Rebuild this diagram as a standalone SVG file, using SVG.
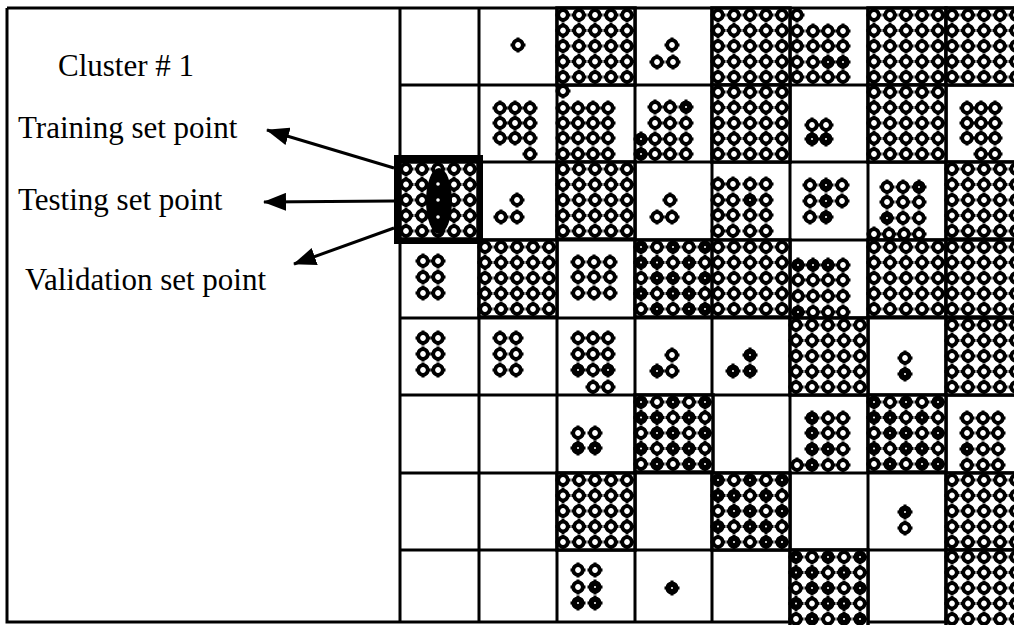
<svg xmlns="http://www.w3.org/2000/svg" width="1014" height="625" viewBox="0 0 1014 625">
<style>
.lbl{font-family:"Liberation Serif","Times New Roman",serif;font-size:31px;fill:#000}
.grid{stroke:#000;stroke-width:3;fill:none}
.arr{stroke:#000;stroke-width:3;fill:none;marker-end:url(#ah)}
</style>
<defs>
<marker id="ah" markerWidth="24" markerHeight="18" refX="22" refY="9" orient="auto" markerUnits="userSpaceOnUse"><path d="M0,0 L23,9 L0,18 Z" fill="#000"/></marker>
<g id="o"><path d="M-7.5 0H7.5M0-7.5V7.5" stroke="#000" stroke-width="3"/><circle r="4.8" fill="#fff" stroke="#000" stroke-width="3.8"/></g>
<g id="f"><path d="M-7.5 0H7.5M0-7.5V7.5" stroke="#000" stroke-width="3"/><circle r="5.3" fill="#000" stroke="#000" stroke-width="2.6"/><circle r="1" fill="#fff"/></g>
<g id="dA">
<rect width="78" height="77" fill="#fff" stroke="#000" stroke-width="3.5"/>
<use href="#o" x="6" y="7"/><use href="#o" x="22" y="7"/><use href="#o" x="38" y="7"/><use href="#o" x="54" y="7"/><use href="#o" x="70" y="7"/>
<use href="#o" x="6" y="22.5"/><use href="#o" x="22" y="22.5"/><use href="#o" x="38" y="22.5"/><use href="#o" x="54" y="22.5"/><use href="#o" x="70" y="22.5"/>
<use href="#o" x="6" y="38"/><use href="#o" x="22" y="38"/><use href="#o" x="38" y="38"/><use href="#o" x="54" y="38"/><use href="#o" x="70" y="38"/>
<use href="#o" x="6" y="53.5"/><use href="#o" x="22" y="53.5"/><use href="#o" x="38" y="53.5"/><use href="#o" x="54" y="53.5"/><use href="#o" x="70" y="53.5"/>
<use href="#o" x="6" y="69"/><use href="#o" x="22" y="69"/><use href="#o" x="38" y="69"/><use href="#o" x="54" y="69"/><use href="#o" x="70" y="69"/>
</g>
<g id="dB">
<rect width="78" height="77" fill="#fff" stroke="#000" stroke-width="3.5"/>
<use href="#f" x="6" y="7"/><use href="#o" x="22" y="7"/><use href="#f" x="38" y="7"/><use href="#o" x="54" y="7"/><use href="#f" x="70" y="7"/>
<use href="#f" x="6" y="22.5"/><use href="#f" x="22" y="22.5"/><use href="#o" x="38" y="22.5"/><use href="#f" x="54" y="22.5"/><use href="#o" x="70" y="22.5"/>
<use href="#o" x="6" y="38"/><use href="#f" x="22" y="38"/><use href="#f" x="38" y="38"/><use href="#o" x="54" y="38"/><use href="#f" x="70" y="38"/>
<use href="#f" x="6" y="53.5"/><use href="#o" x="22" y="53.5"/><use href="#f" x="38" y="53.5"/><use href="#f" x="54" y="53.5"/><use href="#o" x="70" y="53.5"/>
<use href="#o" x="6" y="69"/><use href="#f" x="22" y="69"/><use href="#o" x="38" y="69"/><use href="#f" x="54" y="69"/><use href="#f" x="70" y="69"/>
</g>
</defs>
<rect width="1014" height="625" fill="#fff"/>

<g id="frame" class="grid">
<path d="M7 8V622H1014"/>
<path d="M7 8H1014"/>
<path d="M400 8V622M479 8V622M557 8V622M635 8V622M712 8V622M790 8V622M868 8V622M946 8V622"/>
<path d="M400 85H1014M400 162H1014M400 240H1014M400 318H1014M400 395H1014M400 473H1014M400 550H1014"/>
</g>

<g id="labels">
<text id="cluster" class="lbl" x="58" y="76">Cluster # 1</text>
<text id="training" class="lbl" x="18" y="138">Training set point</text>
<text id="testing" class="lbl" x="18" y="210">Testing set point</text>
<text id="validation" class="lbl" x="25" y="290">Validation set point</text>
</g>

<g id="dense-cells">
<use href="#dA" x="557" y="8"/><use href="#dA" x="712" y="8"/><use href="#dA" x="868" y="8"/><use href="#dA" x="946" y="8"/>
<use href="#dA" x="712" y="85"/><use href="#dA" x="868" y="85"/>
<use href="#dA" x="557" y="162"/><use href="#dA" x="946" y="162"/>
<use href="#dA" x="479" y="240"/><use href="#dB" x="635" y="240"/><use href="#dA" x="712" y="240"/><use href="#dA" x="868" y="240"/><use href="#dA" x="946" y="240"/>
<use href="#dA" x="790" y="318"/><use href="#dA" x="946" y="318"/>
<use href="#dB" x="635" y="395"/><use href="#dB" x="868" y="395"/>
<use href="#dA" x="557" y="473"/><use href="#dB" x="712" y="473"/><use href="#dA" x="946" y="473"/>
<use href="#dB" x="790" y="550"/><use href="#dA" x="946" y="550"/>
</g>

<g id="sparse-cells">
<use href="#o" x="518" y="45"/>
<use href="#o" x="672" y="45"/><use href="#o" x="657" y="62"/><use href="#o" x="673" y="62"/>
<g id="r0c5">
<use href="#o" x="797" y="15"/>
<use href="#o" x="797" y="31"/><use href="#o" x="813" y="31"/><use href="#o" x="828" y="31"/><use href="#o" x="843" y="31"/>
<use href="#o" x="797" y="46"/><use href="#o" x="813" y="46"/><use href="#o" x="828" y="46"/><use href="#o" x="843" y="46"/>
<use href="#o" x="797" y="62"/><use href="#o" x="813" y="62"/><use href="#f" x="828" y="62"/><use href="#f" x="843" y="62"/>
<use href="#o" x="797" y="77"/><use href="#o" x="813" y="77"/><use href="#o" x="828" y="77"/><use href="#o" x="843" y="77"/>
</g>
<use href="#o" x="500" y="108"/><use href="#o" x="515" y="108"/><use href="#o" x="530" y="108"/>
<use href="#o" x="500" y="123"/><use href="#o" x="515" y="123"/><use href="#o" x="530" y="123"/>
<use href="#o" x="500" y="138"/><use href="#o" x="515" y="138"/><use href="#o" x="530" y="138"/>
<use href="#o" x="530" y="154"/>
<g id="r1c2">
<use href="#o" x="563" y="91"/>
<use href="#o" x="563" y="108"/><use href="#o" x="578" y="108"/><use href="#o" x="593" y="108"/><use href="#o" x="608" y="108"/>
<use href="#o" x="563" y="123"/><use href="#o" x="578" y="123"/><use href="#o" x="593" y="123"/><use href="#o" x="608" y="123"/>
<use href="#o" x="563" y="138"/><use href="#o" x="578" y="138"/><use href="#o" x="593" y="138"/><use href="#o" x="608" y="138"/>
<use href="#o" x="563" y="154"/><use href="#o" x="578" y="154"/><use href="#o" x="593" y="154"/><use href="#o" x="608" y="154"/>
</g>
<g id="r1c3">
<use href="#o" x="655" y="107"/><use href="#o" x="670" y="107"/><use href="#f" x="686" y="107"/>
<use href="#o" x="655" y="123"/><use href="#o" x="670" y="123"/><use href="#o" x="686" y="123"/>
<use href="#f" x="641" y="139"/><use href="#o" x="655" y="139"/><use href="#o" x="670" y="139"/><use href="#o" x="686" y="139"/>
<use href="#f" x="641" y="154"/><use href="#o" x="655" y="154"/><use href="#o" x="670" y="154"/><use href="#o" x="686" y="154"/>
</g>
<use href="#o" x="812" y="125"/><use href="#o" x="826" y="125"/><use href="#f" x="812" y="139"/><use href="#f" x="826" y="139"/>
<use href="#o" x="967" y="108"/><use href="#o" x="981" y="108"/><use href="#o" x="995" y="108"/>
<use href="#o" x="967" y="123"/><use href="#o" x="981" y="123"/><use href="#o" x="995" y="123"/>
<use href="#o" x="967" y="138"/><use href="#o" x="981" y="138"/><use href="#o" x="995" y="138"/>
<use href="#o" x="981" y="154"/><use href="#o" x="995" y="154"/>
<use href="#o" x="517" y="200"/><use href="#o" x="501" y="217"/><use href="#o" x="517" y="217"/>
<use href="#o" x="670" y="200"/><use href="#o" x="657" y="217"/><use href="#o" x="672" y="217"/>
<g id="r2c4">
<use href="#o" x="718" y="184"/><use href="#o" x="733" y="184"/><use href="#o" x="750" y="184"/><use href="#o" x="766" y="184"/>
<use href="#o" x="718" y="200"/><use href="#o" x="733" y="200"/><use href="#f" x="750" y="200"/><use href="#o" x="766" y="200"/>
<use href="#o" x="718" y="215"/><use href="#o" x="733" y="215"/><use href="#o" x="750" y="215"/><use href="#o" x="766" y="215"/>
<use href="#o" x="718" y="231"/><use href="#o" x="733" y="231"/><use href="#o" x="750" y="231"/><use href="#o" x="766" y="231"/>
</g>
<use href="#o" x="810" y="185"/><use href="#f" x="826" y="185"/><use href="#o" x="842" y="185"/>
<use href="#o" x="810" y="201"/><use href="#f" x="826" y="201"/><use href="#o" x="842" y="201"/>
<use href="#o" x="810" y="217"/><use href="#f" x="826" y="217"/>
<use href="#o" x="887" y="187"/><use href="#o" x="903" y="187"/><use href="#f" x="919" y="187"/>
<use href="#o" x="887" y="202"/><use href="#o" x="903" y="202"/><use href="#o" x="919" y="202"/>
<use href="#f" x="887" y="218"/><use href="#o" x="903" y="218"/><use href="#o" x="919" y="218"/>
<use href="#o" x="874" y="234"/><use href="#o" x="889" y="234"/><use href="#o" x="904" y="234"/><use href="#o" x="919" y="234"/>
<use href="#o" x="423" y="261"/><use href="#o" x="438" y="261"/>
<use href="#o" x="423" y="277"/><use href="#o" x="438" y="277"/>
<use href="#o" x="423" y="293"/><use href="#o" x="438" y="293"/>
<use href="#o" x="578" y="262"/><use href="#o" x="594" y="262"/><use href="#o" x="610" y="262"/>
<use href="#o" x="578" y="277"/><use href="#o" x="594" y="277"/><use href="#o" x="610" y="277"/>
<use href="#o" x="578" y="293"/><use href="#o" x="594" y="293"/><use href="#o" x="610" y="293"/>
<g id="r3c5">
<use href="#f" x="798" y="265"/><use href="#f" x="813" y="265"/><use href="#f" x="828" y="265"/><use href="#o" x="843" y="265"/>
<use href="#o" x="798" y="280"/><use href="#o" x="813" y="280"/><use href="#o" x="828" y="280"/><use href="#o" x="843" y="280"/>
<use href="#o" x="798" y="296"/><use href="#o" x="813" y="296"/><use href="#o" x="828" y="296"/><use href="#o" x="843" y="296"/>
<use href="#f" x="798" y="312"/><use href="#o" x="813" y="312"/><use href="#o" x="828" y="312"/><use href="#o" x="843" y="312"/>
</g>
<use href="#o" x="423" y="338"/><use href="#o" x="438" y="338"/>
<use href="#o" x="423" y="354"/><use href="#o" x="438" y="354"/>
<use href="#o" x="423" y="370"/><use href="#o" x="438" y="370"/>
<use href="#o" x="500" y="338"/><use href="#o" x="516" y="338"/>
<use href="#o" x="500" y="354"/><use href="#o" x="516" y="354"/>
<use href="#o" x="500" y="370"/><use href="#o" x="516" y="370"/>
<use href="#o" x="578" y="338"/><use href="#o" x="593" y="338"/><use href="#o" x="608" y="338"/>
<use href="#o" x="578" y="354"/><use href="#o" x="593" y="354"/><use href="#o" x="608" y="354"/>
<use href="#f" x="578" y="370"/><use href="#o" x="593" y="370"/><use href="#f" x="608" y="370"/>
<use href="#o" x="593" y="387"/><use href="#o" x="608" y="387"/>
<use href="#o" x="672" y="355"/><use href="#f" x="657" y="371"/><use href="#o" x="672" y="371"/>
<use href="#f" x="750" y="355"/><use href="#f" x="733" y="371"/><use href="#f" x="750" y="371"/>
<use href="#o" x="905" y="358"/><use href="#f" x="905" y="374"/>
<use href="#o" x="578" y="433"/><use href="#o" x="595" y="433"/><use href="#f" x="578" y="448"/><use href="#f" x="595" y="448"/>
<use href="#f" x="812" y="418"/><use href="#o" x="828" y="418"/><use href="#o" x="843" y="418"/>
<use href="#f" x="812" y="433"/><use href="#o" x="828" y="433"/><use href="#o" x="843" y="433"/>
<use href="#f" x="812" y="449"/><use href="#f" x="828" y="449"/><use href="#o" x="843" y="449"/>
<use href="#o" x="797" y="465"/><use href="#f" x="812" y="465"/><use href="#o" x="828" y="465"/><use href="#o" x="843" y="465"/>
<use href="#o" x="967" y="418"/><use href="#o" x="983" y="418"/><use href="#o" x="998" y="418"/>
<use href="#o" x="967" y="433"/><use href="#o" x="983" y="433"/><use href="#o" x="998" y="433"/>
<use href="#f" x="967" y="449"/><use href="#o" x="983" y="449"/><use href="#o" x="998" y="449"/>
<use href="#o" x="967" y="465"/><use href="#o" x="983" y="465"/><use href="#o" x="998" y="465"/>
<use href="#f" x="905" y="512"/><use href="#o" x="905" y="528"/>
<use href="#o" x="578" y="570"/><use href="#o" x="595" y="570"/>
<use href="#o" x="578" y="587"/><use href="#f" x="595" y="587"/>
<use href="#f" x="578" y="603"/><use href="#f" x="595" y="603"/>
<use href="#f" x="672" y="588"/>
</g>

<g id="selected-cell">
<use href="#dA" x="400" y="162"/>
<ellipse cx="439" cy="201" rx="13" ry="33" fill="#000"/>
<circle cx="438" cy="184" r="1.8" fill="#fff"/>
<circle cx="438" cy="200" r="1.8" fill="#fff"/>
<circle cx="438" cy="217" r="1.8" fill="#fff"/>
<rect x="397" y="158" width="83" height="83" fill="none" stroke="#000" stroke-width="6"/>
</g>

<g id="connectors">
<line class="arr" x1="394" y1="168" x2="267" y2="130"/>
<line class="arr" x1="394" y1="201" x2="264" y2="202"/>
<line class="arr" x1="394" y1="228" x2="294" y2="264"/>
</g>
</svg>
